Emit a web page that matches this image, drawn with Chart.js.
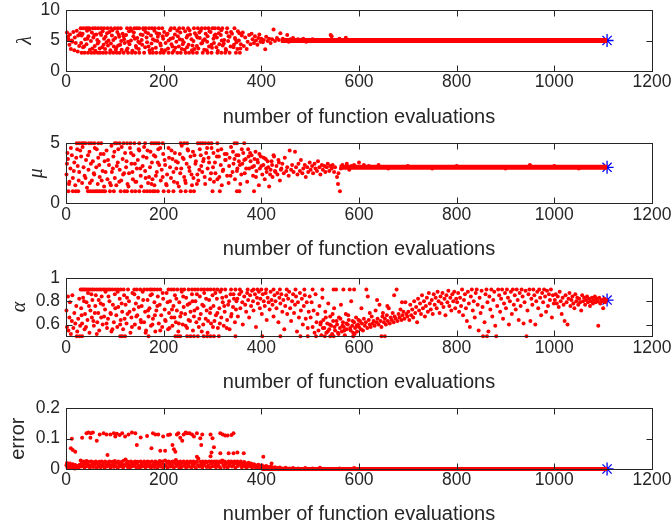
<!DOCTYPE html>
<html>
<head>
<meta charset="utf-8">
<script src="https://cdn.jsdelivr.net/npm/chart.js@4.4.1/dist/chart.umd.min.js"></script>
<style>
body { margin: 0; background: #fff; width: 672px; height: 531px; position: relative; overflow: hidden; }
canvas { position: absolute; left: 0; }
</style>
</head>
<body>
<canvas id="lambdaChart" width="672" height="135" style="top:0px"></canvas>
<canvas id="muChart" width="672" height="135" style="top:135px"></canvas>
<canvas id="alphaChart" width="672" height="130" style="top:270px"></canvas>
<canvas id="errorChart" width="672" height="131" style="top:400px"></canvas>
<script>
var xTicks = [0, 200, 400, 600, 800, 1000, 1200];
var lambdaTicks = [0, 5, 10];
var muTicks = [0, 5];
var alphaTicks = [0.6, 0.8, 1];
var errorTicks = [0, 0.1, 0.2];

// best parameter set found (last evaluation)
var bestEval = 1108;
var bestLambda = 5, bestMu = 3, bestAlpha = 0.81, bestError = 0;

// settled stretch of each parameter: [start eval, end eval, value]
var lambdaSettled = [440, 1108, 5];
var muSettled = [560, 1108, 3];
var errorSettled = [400, 1108, 0];

var lambdaPts = [
  [2,6.3],[4,5.6],[5,5.2],[7,4.3],[8,6.0],[10,3.6],[12,5.0],[13,4.8],[15,6.4],[17,3.4],[18,5.5],[20,4.6],[22,6.6],[24,3.2],[25,5.8],[27,4.1],[29,6.2],
  [30,7],[35,7],[40,7],[44,7],[48,7],[55,7],[60,7],[66,7],[72,7],[78,7],[85,7],[92,7],[100,7],[106,7],[112,7],[125,7],[132,7],[140,7],[145,7],[150,7],[158,7],[163,7],[170,7],[176,7],[182,7],[190,7],[197,7],[215,7],[222,7],[232,7],[240,7],[250,7],[262,7],[270,7],[278,7],[285,7],[292,7],[300,7],[305,7],[312,7],[320,7],[330,7],[345,7],
  [32,3],[38,3],[45,3],[52,3],[58,3],[65,3],[70,3],[76,3],[82,3],[90,3],[97,3],[104,3],[110,3],[118,3],[127,3],[135,3],[142,3],[150,3],[160,3],[172,3],[178,3],[185,3],[193,3],[200,3],[210,3],[218,3],[228,3],[235,3],[245,3],[252,3],[260,3],[268,3],[280,3],[290,3],[298,3],[310,3],[318,3],[326,3],[335,3],[348,3],[356,3],
  [31,4.6],[34,6.1],[35,3.9],[39,5.2],[42,4.4],[43,6.6],[46,5.7],[49,3.5],[51,4.9],[53,6.3],[56,5.5],[59,4.1],[60,3.3],[62,6.0],[64,5.1],[67,4.8],[69,3.7],[72,5.9],[75,6.5],[77,4.3],[78,5.3],[80,3.6],[83,4.7],[84,6.2],[87,5.0],[91,3.4],[92,4.5],[94,5.8],[95,6.7],[98,4.0],[101,5.4],[103,3.8],[105,6.4],[107,4.2],[109,5.6],[113,4.9],[114,3.5],[116,6.1],[119,5.2],[120,4.6],[123,5.9],[126,3.7],[129,6.5],[130,4.4],[133,5.0],[136,3.3],[138,5.7],[139,6.3],[143,4.1],[146,5.4],[148,4.8],[149,3.6],[153,6.0],[155,5.1],[156,4.3],[159,6.8],[162,3.9],[165,5.5],[166,4.7],[168,6.2],[171,3.4],[174,5.8],[175,4.5],[178,5.2],[181,6.6],[184,3.8],[187,4.9],[188,5.6],[191,6.1],[194,4.2],[196,3.5],[199,5.3],[201,6.4],[204,4.6],[206,5.9],[209,3.7],[210,5.0],[213,6.7],[216,4.4],[219,5.4],[221,3.3],[223,6.0],[226,4.8],[229,5.7],[231,4.0],[234,6.3],[237,3.6],[238,5.1],[241,4.7],[244,6.5],[247,5.5],[248,3.9],[251,4.3],[254,6.0],[257,5.2],[258,3.4],[261,4.9],[264,6.2],[267,5.8],[268,4.1],[271,3.7],[274,5.4],[276,6.6],[277,4.5],[281,5.0],[283,3.5],[286,6.1],[289,4.8],[290,5.7],[293,4.0],[296,6.4],[299,3.8],[302,5.3],[303,4.6],[306,6.0],[309,5.5],[311,3.3],[314,4.4],[317,5.9],[318,6.7],[321,4.2],[324,5.1],[327,3.6],[329,6.3],[332,4.9],[335,5.6],[337,4.0],[340,6.1],[343,3.9],[346,5.4],[349,4.7],[352,6.5],[354,5.0],[357,3.7],[360,5.8],
  [32,5.8],[37,4.0],[44,5.3],[48,6.8],[54,3.7],[58,5.9],[65,4.5],[70,6.2],[74,3.9],[81,5.6],[86,4.2],[89,6.4],[97,5.1],[102,3.5],[108,6.0],[111,4.3],[118,5.7],[124,3.4],[127,4.8],[134,6.6],[141,5.3],[144,3.8],[151,4.6],[157,5.9],[163,6.4],[169,4.0],[177,3.6],[182,5.0],[186,6.2],[193,4.5],[198,5.7],[203,3.4],[208,6.1],[214,5.3],[218,4.0],[224,3.8],[228,6.6],[233,5.2],[239,4.4],[243,3.5],[249,5.8],[253,6.7],[259,4.2],[263,3.6],[269,5.5],[273,6.3],[279,4.6],[284,5.2],[288,3.4],[294,6.5],[298,4.3],[304,5.8],[308,3.9],[313,6.2],[319,5.0],[323,4.5],[328,3.4],[333,5.7],[338,6.4],[344,4.3],[347,5.2],[351,3.6],[355,6.2],[358,4.4],
  [362,6.3],[364,4.1],[367,5.5],[370,3.6],[372,4.8],[375,5.9],[378,4.4],[380,6.1],[382,5.2],[385,4.6],[387,5.7],[389,5.0],[392,4.3],[394,5.4],[396,6.0],[398,4.8],[400,5.3],[408,3.55],[405,5.1],[403,4.7],[410,5.6],[413,4.9],[416,5.3],[419,4.6],[422,5.2],[425,6.8],[428,4.9],[432,5.4],[436,5.1],[439,6.2],[444,5.3],[448,5.0],[453,5.9],[456,4.8],[460,5.2],[465,5.4],[470,4.9],[475,5.2],[480,5.0],[486,5.3],[492,4.8],[498,5.1],[505,5.2],[512,4.9],[520,5.1],[530,5.0],[542,5.9],[544,5.7],[560,5.3],[573,5.45],[590,5.1]
];

var muPts = [
  [22,5],[27,5],[32,5],[36,5],[40,5],[47,5],[52,5],[58,5],[66,5],[72,5],[100,5],[104,5],[110,5],[118,5],[125,5],[132,5],[140,5],[150,5],[162,5],[175,5],[180,5],[185,5],[190,5],[198,5],[235,5],[242,5],[248,5],[270,5],[275,5],[280,5],[285,5],[292,5],[298,5],[310,5],[345,5],[350,5],[365,5],
  [5,1],[14,1],[20,1],[25,1],[45,1],[50,1],[55,1],[60,1],[64,1],[68,1],[72,1],[76,1],[80,1],[90,1],[98,1],[112,1],[120,1],[125,1],[135,1],[142,1],[150,1],[160,1],[166,1],[172,1],[178,1],[182,1],[188,1],[200,1],[210,1],[220,1],[235,1],[245,1],[255,1],[262,1],[300,1],[315,1],[350,1],[355,1],[385,1],
  [1,2.4],[3,4.2],[4,3.7],[7,1.8],[9,2.9],[12,4.0],[14,2.1],[17,3.4],[19,1.5],[23,4.5],[24,3.1],[27,2.6],[31,3.9],[33,1.7],[34,4.7],[38,2.3],[41,3.6],[43,1.3],[46,2.8],[48,4.3],[51,3.3],[53,1.9],[57,2.5],[59,4.6],[62,3.0],[65,1.6],[66,3.8],[69,2.2],[71,4.1],[75,2.7],[78,1.4],[79,3.5],[83,4.4],[85,2.0],[88,3.2],[90,1.7],[93,4.8],[94,2.6],[97,3.9],[100,2.1],[103,1.5],[106,3.4],[107,4.5],[110,2.8],[113,1.9],[116,3.7],[117,2.4],[121,4.2],[123,3.0],[126,1.6],[129,2.5],[131,4.6],[134,3.3],[137,2.0],[138,4.0],[142,1.8],[145,2.9],[147,3.6],[150,4.4],[153,2.3],[154,1.4],[157,3.1],[160,4.7],[162,2.7],[165,3.8],[168,1.7],[170,2.2],[173,4.3],[176,3.4],[177,2.0],[181,1.5],[183,3.9],[186,2.6],[189,4.5],[191,3.2],[194,1.9],[196,2.8],[199,4.1],[202,3.6],[205,1.6],[207,2.4],[210,4.6],[213,3.0],[215,2.1],[218,3.7],[221,1.8],[223,4.2],[226,2.9],[229,3.4],[231,1.4],[234,2.5],[237,4.8],[239,3.8],[242,2.2],[245,1.7],[247,3.3],[250,4.4],[253,2.7],[255,3.9],[258,1.5],[261,2.1],[263,4.0],[266,3.5],[269,2.4],[271,1.9],[274,4.5],[277,3.1],[279,2.6],[282,3.7],[285,1.6],[287,4.2],[290,2.9],[293,3.4],[295,2.0],[298,4.6],[301,3.0],[303,1.8],[306,2.5],[309,3.9],[311,4.4],[314,2.2],[317,3.2],[319,1.5],[322,2.8],[325,4.1],[327,3.6],[330,2.3],[333,1.7],[335,3.8],[338,4.7],[341,2.6],[343,3.3],[346,2.0],[349,4.0],[351,2.9],[354,3.5],[357,1.6],[359,2.4],
  [2,3.3],[6,1.6],[10,4.6],[16,2.7],[21,3.8],[26,1.9],[29,4.4],[36,3.0],[40,2.1],[45,4.0],[49,1.7],[55,3.5],[58,2.4],[63,4.5],[68,3.2],[73,1.9],[77,4.1],[81,2.6],[86,3.6],[92,1.5],[96,2.9],[99,4.3],[104,3.1],[109,1.8],[114,4.7],[119,2.5],[124,3.5],[128,1.4],[133,4.2],[136,2.6],[141,3.3],[144,1.8],[149,4.5],[152,2.9],[158,3.9],[163,2.1],[167,4.4],[172,3.0],[175,1.6],[180,4.0],[184,2.3],[188,3.4],[193,4.6],[198,2.2],[203,3.2],[206,1.5],[211,3.8],[216,4.4],[220,2.6],[225,3.5],[228,1.7],[233,4.1],[236,2.9],[241,3.7],[244,1.9],[249,4.5],[252,3.0],[257,2.4],[260,4.3],[265,3.3],[268,1.6],[273,2.8],[276,4.0],[281,3.5],[284,2.2],[289,4.6],[292,3.8],[297,2.5],[302,4.2],[305,3.4],[310,2.0],[313,3.9],[318,4.5],[321,2.7],[326,3.6],[329,4.1],[334,3.1],[337,2.3],[342,4.3],[345,3.7],[350,2.7],[353,4.0],[356,3.2],[360,4.5],[365,3.6],[369,2.9],[374,3.9],[377,4.2],[381,3.0],[386,3.7],[389,2.2],[393,3.4],[396,4.1],[400,3.1],[405,3.8],[410,2.9],[413,3.5],[418,2.4],[422,3.2],[425,4.0],[429,2.6],[435,3.6],[440,2.8],
  [361,3.3],[363,4.2],[366,2.5],[368,3.7],[371,1.8],[373,4.5],[375,2.9],[378,3.5],[380,4.0],[383,2.3],[385,3.1],[388,4.3],[390,2.7],[392,3.6],[395,1.5],[397,2.9],[399,3.9],[402,2.4],[404,3.2],[407,2.0],[409,3.7],[411,2.6],[414,3.0],[416,1.4],[419,2.8],[421,3.5],[423,2.2],[426,3.9],[428,2.7],[431,3.1],[433,2.4],[436,3.4],[438,1.9],[441,2.9],[443,3.3],[446,2.5],[448,3.8],[451,2.7],[453,3.0],[456,2.3],[458,4.4],[461,2.8],[463,3.2],[466,2.6],[469,4.3],[471,3.0],[474,2.4],[476,3.3],[479,2.7],[481,3.6],[484,2.5],[486,2.9],[489,3.2],[491,2.2],[494,3.0],[496,2.6],[499,3.4],[501,2.8],[504,3.1],[506,2.5],[509,3.3],[511,2.9],[514,2.7],[516,3.5],[519,3.0],[521,2.4],[524,3.2],[526,2.8],[529,3.1],[531,2.6],[534,3.0],[536,3.3],[539,2.7],[541,3.1],[544,2.9],[546,3.2],[549,2.6],[551,3.0],[557,1.6],[561,1.0],[555,2.2],[558,2.5],[563,2.9],[566,3.2],[570,3.0],[575,3.3],[580,2.8],[585,3.1],[590,3.2],[600,3.4],[610,3.2],[620,3.1],[640,3.2],[660,2.9],[700,3.1],[750,2.9],[800,3.1],[850,3.0],[900,2.9],[950,3.2],[1000,3.1],[1050,2.9]
];

var alphaPts = [
  [1,0.72],[2,0.58],[4,0.84],[5,0.55],[7,0.66],[8,0.79],[10,0.52],[12,0.63],[13,0.85],[15,0.57],[17,0.70],[19,0.61],[21,0.76],[23,0.54],[25,0.65],[27,0.82],[29,0.59],
  [30,0.9],[33,0.9],[36,0.9],[39,0.9],[42,0.9],[46,0.9],[50,0.9],[54,0.9],[58,0.9],[63,0.9],[68,0.9],[72,0.9],[77,0.9],[81,0.9],[86,0.9],[90,0.9],[95,0.9],[101,0.9],[106,0.9],[112,0.9],[118,0.9],[127,0.9],[140,0.9],[145,0.9],[152,0.9],[160,0.9],[166,0.9],[172,0.9],[176,0.9],[181,0.9],[187,0.9],[193,0.9],[210,0.9],[216,0.9],[221,0.9],[228,0.9],[236,0.9],[242,0.9],[251,0.9],[258,0.9],[264,0.9],[270,0.9],[277,0.9],[283,0.9],[290,0.9],[296,0.9],[303,0.9],[310,0.9],[318,0.9],[326,0.9],[338,0.9],[347,0.9],[356,0.9],[372,0.9],[384,0.9],[392,0.9],[400,0.9],[410,0.9],[425,0.9],[438,0.9],[452,0.9],[470,0.9],[488,0.9],[505,0.9],[525,0.9],[548,0.9],[568,0.9],[590,0.9],
  [22,0.5],[28,0.5],[33,0.5],[111,0.5],[115,0.5],[121,0.5],[169,0.5],[224,0.5],[229,0.5],[234,0.5],[248,0.5],[255,0.5],[262,0.5],[270,0.5],[282,0.5],[289,0.5],[296,0.5],[303,0.5],[313,0.5],[347,0.5],[402,0.5],[439,0.5],[480,0.5],[495,0.5],[512,0.5],[530,0.5],[541,0.5],[548,0.5],[588,0.5],[646,0.5],[653,0.5],[854,0.5],[862,0.5],[881,0.5],[943,0.5],
  [31,0.74],[33,0.61],[35,0.83],[38,0.56],[39,0.69],[42,0.79],[44,0.64],[45,0.87],[48,0.53],[50,0.72],[53,0.66],[54,0.81],[57,0.59],[60,0.76],[61,0.85],[64,0.62],[66,0.7],[68,0.55],[71,0.78],[73,0.84],[75,0.6],[78,0.67],[80,0.73],[81,0.88],[84,0.57],[86,0.65],[89,0.8],[91,0.7],[93,0.54],[96,0.77],[98,0.62],[100,0.86],[103,0.68],[105,0.58],[107,0.75],[110,0.82],[112,0.64],[115,0.71],[117,0.56],[119,0.85],[122,0.77],[124,0.61],[126,0.69],[129,0.8],[132,0.53],[134,0.66],[136,0.87],[139,0.73],[141,0.6],[143,0.78],[146,0.68],[148,0.83],[150,0.57],[153,0.64],[155,0.76],[157,0.88],[160,0.62],[162,0.71],[164,0.55],[167,0.81],[169,0.67],[171,0.74],[174,0.59],[176,0.86],[178,0.65],[181,0.79],[183,0.54],[185,0.72],[188,0.84],[190,0.61],[192,0.77],[195,0.68],[197,0.58],[199,0.82],[202,0.73],[204,0.63],[206,0.87],[209,0.56],[211,0.7],[213,0.8],[216,0.66],[218,0.59],[220,0.76],[223,0.85],[225,0.62],[227,0.72],[230,0.54],[232,0.79],[234,0.67],[237,0.88],[239,0.6],[241,0.75],[244,0.69],[246,0.83],[248,0.57],[251,0.64],[253,0.78],[255,0.71],[258,0.86],[260,0.55],[262,0.67],[265,0.8],[267,0.62],[269,0.74],[272,0.58],[274,0.84],[276,0.69],[279,0.77],[281,0.6],[283,0.87],[286,0.65],[288,0.72],[290,0.53],[293,0.81],[295,0.7],[297,0.61],[300,0.85],[302,0.76],[304,0.63],[307,0.68],[309,0.82],[311,0.57],[314,0.74],[316,0.88],[318,0.66],[321,0.79],[323,0.59],[325,0.71],[328,0.84],[330,0.64],[332,0.77],[335,0.56],[337,0.86],[339,0.69],[342,0.75],[344,0.82],[346,0.62],[349,0.8],
  [32,0.68],[37,0.8],[41,0.58],[47,0.76],[52,0.86],[56,0.63],[59,0.7],[63,0.52],[67,0.81],[72,0.66],[76,0.77],[83,0.61],[87,0.84],[92,0.69],[95,0.56],[101,0.74],[106,0.88],[111,0.6],[114,0.78],[120,0.65],[125,0.83],[130,0.71],[135,0.58],[140,0.86],[144,0.67],[149,0.75],[154,0.62],[158,0.81],[163,0.53],[168,0.72],[173,0.85],[177,0.6],[182,0.68],[187,0.76],[193,0.55],[198,0.87],[203,0.64],[208,0.79],[212,0.57],[217,0.73],[222,0.66],[226,0.82],[231,0.61],[236,0.7],[240,0.84],[245,0.59],[249,0.77],[254,0.63],[259,0.8],[263,0.72],[268,0.86],[273,0.65],[278,0.54],[282,0.76],[287,0.82],[291,0.63],[296,0.74],[301,0.58],[306,0.87],[310,0.7],[315,0.61],[320,0.83],[324,0.76],[329,0.57],[334,0.8],[338,0.67],[343,0.86],[348,0.73],
  [351,0.82],[352,0.67],[355,0.86],[357,0.74],[359,0.88],[361,0.79],[362,0.6],[365,0.84],[367,0.77],[369,0.71],[371,0.87],[373,0.81],[375,0.66],[377,0.85],[379,0.76],[381,0.89],[383,0.8],[384,0.72],[387,0.86],[389,0.58],[391,0.83],[393,0.78],[395,0.88],[397,0.74],[398,0.82],[401,0.69],[403,0.86],[405,0.8],[407,0.76],[409,0.87],[411,0.64],[413,0.83],[415,0.79],[417,0.73],[419,0.88],[421,0.81],[423,0.77],[425,0.67],[427,0.85],[429,0.8],[431,0.74],[433,0.87],[435,0.62],[437,0.83],[439,0.78],[441,0.86],[443,0.71],[445,0.81],[447,0.56],[449,0.76],[451,0.85],[453,0.69],[455,0.82],[457,0.88],[459,0.74],[461,0.63],[463,0.8],[465,0.86],[467,0.7],[469,0.77],[471,0.84],[473,0.54],[475,0.79],[477,0.66],[479,0.87],[481,0.72],[483,0.82],[485,0.6],[487,0.76],[489,0.85],[491,0.65],[493,0.79],[495,0.57],[497,0.71],[499,0.84],
  [501,0.66],[503,0.79],[505,0.58],[507,0.72],[509,0.53],[511,0.86],[513,0.62],[515,0.69],[517,0.55],[519,0.76],[521,0.6],[523,0.51],[525,0.83],[527,0.64],[529,0.57],[531,0.71],[533,0.53],[535,0.61],[537,0.78],[539,0.56],[541,0.67],[543,0.59],[545,0.52],[547,0.63],[549,0.74],[551,0.55],[553,0.9],[555,0.6],[557,0.53],[559,0.66],[561,0.57],[563,0.77],[565,0.54],[567,0.62],[569,0.58],[571,0.51],[573,0.69],[575,0.56],[577,0.6],[579,0.64],[581,0.9],[583,0.55],[584,0.8],[586,0.59],[588,0.53],[590,0.62],[592,0.57],[594,0.66],[596,0.54],[598,0.6],
  [522,0.62],[526,0.57],[532,0.66],[536,0.54],[540,0.6],[546,0.69],[550,0.58],[554,0.63],[558,0.52],[562,0.65],[566,0.59],[570,0.55],[574,0.61],[578,0.68],[582,0.57],[587,0.63],[591,0.52],[595,0.59],[599,0.64],
  [600,0.58],[602,0.63],[604,0.56],[606,0.61],[608,0.55],[610,0.65],[612,0.59],[614,0.62],[615,0.9],[617,0.57],[618,0.84],[620,0.64],[622,0.6],[624,0.58],[626,0.67],[628,0.61],[630,0.63],[632,0.59],[634,0.72],[636,0.62],[638,0.65],[640,0.6],[642,0.77],[644,0.63],[646,0.58],[648,0.67],[649,0.7],[651,0.62],[653,0.65],[655,0.6],[657,0.68],[659,0.63],[661,0.74],[663,0.61],[665,0.66],[667,0.64],[669,0.7],[671,0.62],[673,0.67],[675,0.65],[677,0.9],[679,0.63],[681,0.69],[683,0.66],[685,0.73],[687,0.64],[689,0.68],[691,0.71],[693,0.65],[695,0.79],[697,0.69],[699,0.67],
  [605,0.74],[622,0.7],[637,0.81],[658,0.76],[672,0.85],[688,0.79],
  [701,0.71],[703,0.64],[705,0.77],[707,0.68],[709,0.73],[711,0.66],[713,0.8],[715,0.7],[717,0.75],[719,0.62],[721,0.82],[723,0.72],[725,0.78],[727,0.69],[729,0.85],[731,0.74],[733,0.8],[735,0.67],[737,0.76],[739,0.83],[741,0.71],[743,0.87],[745,0.78],[747,0.73],[749,0.81],[751,0.69],[753,0.86],[755,0.77],[757,0.83],[759,0.74],[761,0.88],[763,0.8],[765,0.7],[767,0.84],[769,0.78],[771,0.87],[773,0.75],[775,0.82],[777,0.68],[779,0.85],[781,0.79],[783,0.89],[785,0.76],[787,0.83],[789,0.72],[791,0.86],[793,0.8],[795,0.88],[797,0.74],[799,0.82],
  [801,0.79],[803,0.87],[805,0.71],[807,0.83],[809,0.76],[811,0.9],[813,0.68],[815,0.81],[817,0.86],[819,0.74],[821,0.63],[823,0.88],[825,0.78],[827,0.58],[829,0.84],[831,0.9],[833,0.72],[835,0.8],[837,0.66],[839,0.87],[841,0.9],[843,0.77],[845,0.55],[847,0.83],[849,0.7],[851,0.89],[853,0.75],[857,0.62],[859,0.86],[861,0.9],[863,0.79],[865,0.54],[867,0.84],[869,0.73],[871,0.9],[873,0.67],[875,0.81],[877,0.88],[879,0.59],[883,0.76],[885,0.9],[887,0.85],[889,0.71],[891,0.82],[893,0.9],[895,0.65],[897,0.78],[899,0.87],[901,0.74],[903,0.9],[905,0.83],[907,0.6],[909,0.8],[911,0.88],[913,0.69],[915,0.9],[917,0.77],[919,0.85],[921,0.73],[923,0.9],[925,0.81],[927,0.64],[929,0.87],[931,0.76],[933,0.9],[935,0.84],[937,0.61],[939,0.79],[941,0.89],[945,0.72],[947,0.86],[949,0.9],[951,0.63],[953,0.82],[955,0.77],[957,0.9],[959,0.85],[961,0.6],[963,0.8],[965,0.88],[967,0.74],[969,0.9],[971,0.83],[973,0.68],[975,0.87],[977,0.79],[979,0.9],[981,0.84],[983,0.71],[985,0.89],[987,0.76],[989,0.86],[991,0.81],[993,0.9],[995,0.66],[997,0.85],[999,0.78],
  [1001,0.81],[1003,0.86],[1005,0.78],[1007,0.84],[1009,0.75],[1011,0.88],[1013,0.8],[1015,0.69],[1017,0.83],[1019,0.77],[1021,0.63],[1023,0.85],[1025,0.79],[1027,0.6],[1029,0.82],[1031,0.87],[1033,0.76],[1035,0.81],[1037,0.84],[1039,0.78],[1041,0.74],[1043,0.86],[1045,0.8],[1047,0.83],[1049,0.77],[1051,0.82],[1053,0.79],[1055,0.72],[1057,0.85],[1059,0.8],[1061,0.83],[1063,0.77],[1065,0.81],[1067,0.84],[1069,0.79],[1071,0.82],[1073,0.76],[1075,0.8],[1077,0.83],[1079,0.78],[1081,0.81],[1083,0.84],[1085,0.79],[1087,0.82],[1089,0.8],[1090,0.59],[1092,0.83],[1094,0.78],[1096,0.81],[1098,0.8],[1100,0.74],[1102,0.82],[1104,0.79],[1106,0.81]
];

var errorPts = [
  [10,0.068],[14,0.063],[19,0.057],[12,0.1],[33,0.103],[42,0.118],[46,0.12],[51,0.118],[55,0.12],[50,0.103],[63,0.093],[69,0.114],[77,0.118],[83,0.114],[85,0.046],[91,0.114],[98,0.118],[101,0.107],[104,0.116],[110,0.112],[115,0.118],[121,0.107],[128,0.114],[135,0.12],[142,0.118],[145,0.079],[153,0.104],[166,0.109],[178,0.118],[183,0.114],[175,0.068],[189,0.114],[193,0.06],[199,0.107],[203,0.06],[209,0.112],[213,0.114],[218,0.079],[221,0.065],[224,0.057],[227,0.114],[230,0.118],[234,0.103],[238,0.093],[241,0.114],[245,0.12],[248,0.118],[253,0.118],[258,0.114],[262,0.107],[268,0.118],[268,0.04],[275,0.101],[277,0.079],[279,0.114],[296,0.114],[296,0.042],[300,0.101],[303,0.072],[298,0.054],[316,0.118],[321,0.114],[326,0.11],[331,0.11],[339,0.112],[343,0.118],[316,0.052],[333,0.052],[343,0.052],[351,0.054],[364,0.052],[404,0.04],[421,0.018],
  [1,0.012],[2,0.02],[3,0.005],[5,0.015],[6,0.008],[8,0.018],[9,0.003],[11,0.011],[13,0.006],[14,0.016],[16,0.009],[18,0.002],[19,0.013],[21,0.007],[23,0.004],[24,0.01],[26,0.006],[28,0.014],[30,0.028],[31,0.008],[33,0.022],[35,0.012],[36,0.025],[38,0.005],[40,0.018],[42,0.026],[43,0.009],[45,0.015],[47,0.024],[49,0.004],[50,0.011],[52,0.025],[54,0.017],[56,0.007],[57,0.022],[59,0.013],[61,0.025],[63,0.003],[64,0.019],[66,0.009],[68,0.024],[70,0.014],[71,0.006],[73,0.025],[75,0.011],[77,0.02],[79,0.004],[80,0.025],[82,0.013],[84,0.008],[86,0.022],[88,0.016],[89,0.025],[91,0.005],[93,0.012],[95,0.024],[97,0.018],[98,0.007],[100,0.026],[102,0.01],[104,0.021],[106,0.003],[107,0.025],[109,0.014],[111,0.009],[113,0.023],[115,0.016],[117,0.005],[118,0.027],[120,0.012],[122,0.031],[124,0.019],[126,0.007],[127,0.024],[129,0.013],[131,0.004],[133,0.025],[135,0.017],[136,0.009],[138,0.022],[140,0.012],[142,0.025],[144,0.006],[145,0.019],[147,0.024],[149,0.01],[151,0.003],[153,0.025],[154,0.015],[156,0.008],[158,0.021],[160,0.025],[162,0.012],[163,0.005],[165,0.018],[167,0.025],[169,0.009],[171,0.023],[172,0.014],[174,0.004],[176,0.025],[178,0.011],[180,0.019],[181,0.007],[183,0.025],[185,0.015],[187,0.003],[189,0.022],[190,0.012],[192,0.026],[194,0.008],[196,0.018],[198,0.025],[199,0.005],[201,0.014],[203,0.028],[205,0.01],[207,0.021],[208,0.004],[210,0.025],[212,0.016],[214,0.008],[216,0.023],[217,0.012],[219,0.025],[221,0.005],[223,0.019],[225,0.03],[226,0.01],[228,0.024],[230,0.015],[232,0.003],[234,0.025],[235,0.013],[237,0.007],[239,0.021],[241,0.025],[243,0.011],[244,0.017],[246,0.004],[248,0.025],[250,0.014],[252,0.008],[253,0.022],[255,0.025],[257,0.006],[259,0.016],[261,0.025],[262,0.01],[264,0.02],[266,0.003],[268,0.025],[270,0.013],[271,0.035],[273,0.008],[275,0.024],[277,0.015],[279,0.005],[280,0.025],[282,0.012],[284,0.019],[286,0.025],[288,0.007],[289,0.022],[291,0.011],[293,0.025],[295,0.004],[297,0.017],[298,0.025],[300,0.009],[302,0.021],[304,0.025],[306,0.014],[307,0.006],[309,0.025],[311,0.018],[313,0.01],[315,0.025],[316,0.003],[318,0.022],[320,0.028],[322,0.013],[324,0.007],[325,0.025],[327,0.016],[329,0.021],[331,0.005],[333,0.025],[334,0.011],[336,0.019],[338,0.025],[340,0.008],[342,0.023],[343,0.014],[345,0.025],[347,0.004],[349,0.018],[351,0.025],[352,0.01],[354,0.021],[356,0.015],[358,0.025],[360,0.006],[361,0.02],[363,0.012],[365,0.023],[367,0.008],[369,0.018],[370,0.004],[372,0.015],[374,0.021],[376,0.009],[378,0.013],[379,0.018],[381,0.005],[383,0.011],[385,0.016],[387,0.007],[388,0.012],[390,0.003],[392,0.009],[394,0.014],[396,0.005],[397,0.01],[399,0.007],[401,0.012],[403,0.004],[405,0.008],[408,0.006],[410,0.01],[412,0.003],[415,0.007],[418,0.005],[420,0.008],[424,0.004],[428,0.006],[433,0.003],[438,0.005],[444,0.002],[450,0.004],[458,0.002],[465,0.003],[475,0.002],[490,0.003],[505,0.002],[520,0.004],[560,0.002],[590,0.003]
];

var textColor = '#262626';
var xTitle = 'number of function evaluations';

function toXY(pairs) {
    return pairs.map(function (p) { return { x: p[0], y: p[1] }; });
}

// MATLAB-like box with inward ticks on all four sides
var boxPlugin = {
    id: 'box',
    afterDraw: function (chart) {
        var ctx = chart.ctx, a = chart.chartArea;
        var xs = chart.scales.x, ys = chart.scales.y, tl = 6;
        var l = Math.round(a.left) + 0.5, r = Math.round(a.right) + 0.5;
        var t = Math.round(a.top) + 0.5, b = Math.round(a.bottom) + 0.5;
        ctx.save();
        ctx.strokeStyle = textColor;
        ctx.lineWidth = 1;
        ctx.strokeRect(l, t, r - l, b - t);
        ctx.beginPath();
        xs.ticks.forEach(function (tk) {
            var px = Math.round(xs.getPixelForValue(tk.value)) + 0.5;
            ctx.moveTo(px, b); ctx.lineTo(px, b - tl);
            ctx.moveTo(px, t); ctx.lineTo(px, t + tl);
        });
        ys.ticks.forEach(function (tk) {
            var py = Math.round(ys.getPixelForValue(tk.value)) + 0.5;
            ctx.moveTo(l, py); ctx.lineTo(l + tl, py);
            ctx.moveTo(r, py); ctx.lineTo(r - tl, py);
        });
        ctx.stroke();
        ctx.restore();
    }
};

function createChart(canvasId, p) {
    var ctx = document.getElementById(canvasId).getContext('2d');
    var settled = p.settled ? [{
        type: 'line',
        data: [{ x: p.settled[0], y: p.settled[2] }, { x: p.settled[1], y: p.settled[2] }],
        borderColor: '#ff0000',
        borderWidth: p.bandWidth,
        pointRadius: 0,
        clip: false
    }] : [];
    return new Chart(ctx, {
        type: 'scatter',
        data: {
            datasets: settled.concat([{
                data: toXY(p.points),
                backgroundColor: '#ff0000',
                pointRadius: 2,
                pointBorderWidth: 0,
                clip: false
            }, {
                data: [{ x: bestEval, y: p.best }],
                pointStyle: 'star',
                pointRadius: 6.5,
                borderColor: '#0000ff',
                pointBorderWidth: 1.3,
                backgroundColor: '#0000ff',
                clip: false
            }])
        },
        options: {
            responsive: false,
            animation: false,
            devicePixelRatio: 1,
            layout: { padding: { top: p.padTop, bottom: p.padBottom, left: 0, right: 20 } },
            plugins: { legend: { display: false }, tooltip: { enabled: false } },
            scales: {
                x: {
                    type: 'linear', min: 0, max: 1200,
                    afterBuildTicks: function (s) { s.ticks = xTicks.map(function (v) { return { value: v }; }); },
                    afterFit: function (s) { s.height = p.xAxisHeight; s.paddingLeft = 0; s.paddingRight = 0; },
                    grid: { display: false, drawTicks: false },
                    border: { display: false },
                    ticks: { autoSkip: false, maxRotation: 0, padding: 1, color: textColor,
                             font: { family: 'Liberation Sans', size: 17.5 },
                             callback: function (v) { return String(v); } },
                    title: { display: true, text: xTitle, color: textColor, padding: 0,
                             font: { family: 'Liberation Sans', size: 20 } }
                },
                y: {
                    type: 'linear', min: p.yMin, max: p.yMax,
                    afterBuildTicks: function (s) { s.ticks = p.yTicks.map(function (v) { return { value: v }; }); },
                    afterFit: function (s) { s.width = 66; s.paddingTop = 0; s.paddingBottom = 0; },
                    grid: { display: false, drawTicks: false },
                    border: { display: false },
                    ticks: { padding: 6, color: textColor,
                             font: { family: 'Liberation Sans', size: 17.5 },
                             callback: function (v) { return String(v); } },
                    title: { display: true, text: p.yLabel, color: textColor,
                             padding: { top: p.yTitlePad, bottom: 0 },
                             font: p.yFont }
                }
            }
        },
        plugins: [boxPlugin]
    });
}

var greek = { family: 'Liberation Serif', size: 20, style: 'italic' };

createChart('lambdaChart', { points: lambdaPts, settled: lambdaSettled, bandWidth: 5, best: bestLambda,
    yMin: 0, yMax: 10, yTicks: lambdaTicks, yLabel: 'λ', yFont: greek, yTitlePad: 14,
    padTop: 10, padBottom: 6, xAxisHeight: 58 });
createChart('muChart', { points: muPts, settled: muSettled, bandWidth: 5, best: bestMu,
    yMin: 0, yMax: 5, yTicks: muTicks, yLabel: 'μ', yFont: greek, yTitlePad: 25,
    padTop: 8.3, padBottom: 8.7, xAxisHeight: 58 });
createChart('alphaChart', { points: alphaPts, settled: null, best: bestAlpha,
    yMin: 0.5, yMax: 1, yTicks: alphaTicks, yLabel: 'α', yFont: greek, yTitlePad: 8,
    padTop: 6, padBottom: 5.7, xAxisHeight: 58 });
createChart('errorChart', { points: errorPts, settled: errorSettled, bandWidth: 4, best: bestError,
    yMin: 0, yMax: 0.2, yTicks: errorTicks, yLabel: 'error', yFont: { family: 'Liberation Sans', size: 20 }, yTitlePad: 6,
    padTop: 8.3, padBottom: 5, xAxisHeight: 57 });
</script>
</body>
</html>
